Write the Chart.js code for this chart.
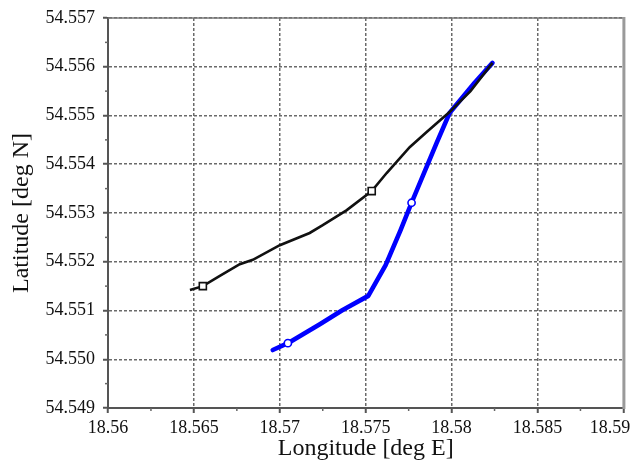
<!DOCTYPE html>
<html>
<head>
<meta charset="utf-8">
<script src="https://cdn.jsdelivr.net/npm/chart.js@4/dist/chart.umd.min.js"></script>
<style>
    body { margin: 0; background: #fff; }
    #wrap { width: 630px; height: 461px; position: relative; }
</style>
</head>
<body>
<div id="wrap"><canvas id="track-chart"></canvas></div>
<script>
// Track data
const blackLon = [18.56477, 18.56552, 18.56651, 18.56767, 18.56843, 18.57000, 18.57174, 18.57250,
                  18.57390, 18.57535, 18.57622, 18.57756, 18.57855, 18.57988, 18.58110, 18.58238];
const blackLat = [54.55142, 54.55150, 54.55171, 54.55195, 54.55204, 54.55234, 54.55259, 54.55275,
                  54.55306, 54.55345, 54.55382, 54.55435, 54.55466, 54.55507, 54.55550, 54.55608];

const blueLon = [18.56959, 18.57047, 18.57233, 18.57366, 18.57515, 18.57616, 18.57703, 18.57767,
                 18.57913, 18.57988, 18.58134, 18.58238];
const blueLat = [54.55019, 54.55033, 54.55072, 54.55101, 54.55130, 54.55193, 54.55265, 54.55321,
                 54.55444, 54.55505, 54.55567, 54.55608];

// Marker positions on each track
const blackMarkLon = [18.56552, 18.57535];
const blackMarkLat = [54.55150, 54.55345];
const blueMarkLon = [18.57047, 18.57767];
const blueMarkLat = [54.55033, 54.55321];

// Axis ranges / ticks
const lonMin = 18.56, lonMax = 18.59, lonStep = 0.005;
const latMin = 54.549, latMax = 54.557, latStep = 0.001;

const SERIF = '"Liberation Serif", "Times New Roman", serif';

function toPoints(xs, ys) {
    return xs.map((x, i) => ({ x: x, y: ys[i] }));
}

// small ticks halfway between the labelled ones, plus the top/right frame
const framePlugin = {
    id: 'frame',
    afterDraw(chart) {
        const ctx = chart.ctx;
        const area = chart.chartArea;
        const xs = chart.scales.x, ys = chart.scales.y;
        ctx.save();
        ctx.strokeStyle = '#666';
        ctx.lineWidth = 1.5;
        for (let i = 0; i < xs.ticks.length - 1; i++) {
            const px = xs.getPixelForValue((xs.ticks[i].value + xs.ticks[i + 1].value) / 2);
            ctx.beginPath();
            ctx.moveTo(px, area.bottom);
            ctx.lineTo(px, area.bottom + 3);
            ctx.stroke();
        }
        for (let i = 0; i < ys.ticks.length - 1; i++) {
            const py = ys.getPixelForValue((ys.ticks[i].value + ys.ticks[i + 1].value) / 2);
            ctx.beginPath();
            ctx.moveTo(area.left, py);
            ctx.lineTo(area.left - 3, py);
            ctx.stroke();
        }
        // top edge
        ctx.strokeStyle = '#777';
        ctx.lineWidth = 1.5;
        ctx.beginPath();
        ctx.moveTo(area.left, area.top);
        ctx.lineTo(area.right, area.top);
        ctx.stroke();
        // right edge (thick grey)
        ctx.strokeStyle = '#9a9a9a';
        ctx.lineWidth = 3;
        ctx.beginPath();
        ctx.moveTo(area.right + 0.5, area.top - 1);
        ctx.lineTo(area.right + 0.5, area.bottom + 1);
        ctx.stroke();
        ctx.restore();
    }
};

new Chart(document.getElementById('track-chart'), {
    type: 'scatter',
    data: {
        datasets: [
            {
                label: 'black markers',
                data: toPoints(blackMarkLon, blackMarkLat),
                showLine: false,
                pointStyle: 'rect',
                pointRadius: 5,
                pointBorderWidth: 1.6,
                pointBorderColor: '#111',
                pointBackgroundColor: '#fff',
                order: 0
            },
            {
                label: 'blue markers',
                data: toPoints(blueMarkLon, blueMarkLat),
                showLine: false,
                pointStyle: 'circle',
                pointRadius: 3.6,
                pointBorderWidth: 1.6,
                pointBorderColor: '#0000ff',
                pointBackgroundColor: '#fff',
                order: 1
            },
            {
                label: 'black track',
                data: toPoints(blackLon, blackLat),
                showLine: true,
                borderColor: '#111',
                borderWidth: 2.6,
                pointRadius: 0,
                tension: 0,
                order: 2
            },
            {
                label: 'blue track',
                data: toPoints(blueLon, blueLat),
                showLine: true,
                borderColor: '#0000ff',
                borderWidth: 4.6,
                borderCapStyle: 'round',
                borderJoinStyle: 'round',
                pointRadius: 0,
                tension: 0,
                order: 3
            }
        ]
    },
    options: {
        responsive: true,
        maintainAspectRatio: false,
        animation: false,
        layout: {
            padding: { top: 18, right: 5, left: 0, bottom: 0 }
        },
        plugins: {
            legend: { display: false },
            tooltip: { enabled: false }
        },
        scales: {
            x: {
                type: 'linear',
                min: lonMin,
                max: lonMax,
                afterFit: function(scale) {
                    scale.height = 53;
                    scale.paddingLeft = 0;
                    scale.paddingRight = 0;
                },
                grid: {
                    color: '#6a6a6a',
                    lineWidth: 1.5,
                    tickLength: 5,
                    tickColor: '#555',
                    tickWidth: 2
                },
                border: {
                    display: true,
                    color: '#555',
                    width: 2,
                    dash: [3, 2]
                },
                ticks: {
                    stepSize: lonStep,
                    padding: 4,
                    color: '#111',
                    maxRotation: 0,
                    autoSkip: false,
                    font: { family: SERIF, size: 18 },
                    callback: function(value) {
                        const txt = parseFloat(value.toFixed(3)).toString();
                        // last label sits inside the canvas edge in the original
                        return value >= lonMax - 1e-9 ? txt + '\u2002\u2002\u2002' : txt;
                    }
                },
                title: {
                    display: true,
                    text: 'Longitude [deg E]',
                    color: '#111',
                    padding: { top: 0, bottom: 0 },
                    font: { family: SERIF, size: 24, lineHeight: 1 }
                }
            },
            y: {
                type: 'linear',
                min: latMin,
                max: latMax,
                afterFit: function(scale) {
                    scale.width = 108;
                    scale.paddingTop = 0;
                    scale.paddingBottom = 0;
                },
                grid: {
                    color: '#6a6a6a',
                    lineWidth: 1.5,
                    tickLength: 5,
                    tickColor: '#555',
                    tickWidth: 2
                },
                border: {
                    display: true,
                    color: '#555',
                    width: 2,
                    dash: [3, 2]
                },
                ticks: {
                    stepSize: latStep,
                    padding: 8,
                    color: '#111',
                    autoSkip: false,
                    font: { family: SERIF, size: 18 },
                    callback: function(value) {
                        return value.toFixed(3);
                    }
                },
                title: {
                    display: true,
                    text: 'Latitude [deg N]',
                    color: '#111',
                    padding: { top: 10, bottom: 0 },
                    font: { family: SERIF, size: 24, lineHeight: 1 }
                }
            }
        }
    },
    plugins: [framePlugin]
});
</script>
</body>
</html>
